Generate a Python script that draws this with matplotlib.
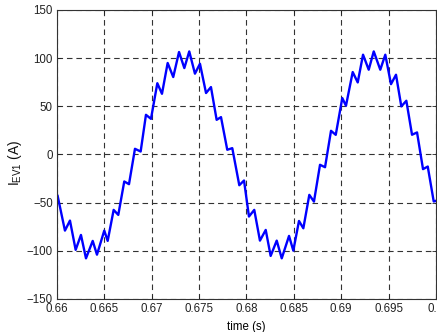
import numpy as np
import matplotlib
matplotlib.use("Agg")
import matplotlib.pyplot as plt

# current of EV1 over two mains periods
t = [0.66007, 0.66084, 0.66137, 0.66197, 0.66253, 0.66306, 0.66377, 0.66422,
     0.66499, 0.66535, 0.66598, 0.66647, 0.66710, 0.66760, 0.66823, 0.66883,
     0.66939, 0.66992, 0.67059, 0.67108, 0.67168, 0.67227, 0.67288, 0.67344,
     0.67396, 0.67456, 0.67509, 0.67573, 0.67625, 0.67685, 0.67731, 0.67797,
     0.67850, 0.67924, 0.67974, 0.68026, 0.68082, 0.68142, 0.68203, 0.68255,
     0.68319, 0.68372, 0.68449, 0.68494, 0.68554, 0.68600, 0.68663, 0.68712,
     0.68776, 0.68829, 0.68892, 0.68942, 0.69011, 0.69050, 0.69121, 0.69174,
     0.69230, 0.69290, 0.69343, 0.69412, 0.69465, 0.69525, 0.69578, 0.69634,
     0.69687, 0.69747, 0.69800, 0.69863, 0.69913, 0.69976, 0.70003]
i_ev1 = [-43, -79, -68.6, -99, -83.5, -107.8, -89.7, -104,
         -79, -89.7, -57.5, -62.7, -28, -30.8, 5.9, 3.1,
         41.2, 37, 74, 63, 95, 80.4, 106.4, 89.7,
         107, 83.9, 94.2, 63.8, 70, 36, 38.8, 4.9,
         6.6, -31.9, -27, -64.4, -57.5, -89.4, -78.3, -105.3,
         -89.4, -107.8, -84.5, -99.8, -69, -76.6, -41.9, -48.9,
         -10.7, -13.2, 24.6, 20.4, 58.6, 50.6, 85.6, 74.8,
         103.6, 88, 107, 88, 103.6, 73, 82.8, 49.9,
         55.8, 20.5, 22.9, -15.2, -12.5, -48.8, -48]

xticks = [0.66, 0.665, 0.67, 0.675, 0.68, 0.685, 0.69, 0.695, 0.70]
xticklabels = ['0.66', '0.665', '0.67', '0.675', '0.68', '0.685', '0.69', '0.695', '0.7']
yticks = [-150, -100, -50, 0, 50, 100, 150]

plt.rcParams['font.family'] = ['Liberation Sans', 'DejaVu Sans']
plt.rcParams['mathtext.default'] = 'regular'

fig = plt.figure(figsize=(4.37, 3.32), dpi=100)
ax = fig.add_axes([0.1304, 0.0994, 0.8673, 0.8705])

ax.plot(t, i_ev1, color='#0000ff', lw=1.7)

ax.set_xlim(0.66, 0.70)
ax.set_ylim(-150, 150)
ax.set_xticks(xticks)
ax.set_xticklabels(xticklabels)
ax.set_yticks(yticks)
ax.tick_params(direction='in', length=3, width=0.6, labelsize=8.3, colors='#222222',
               pad=3, top=True, right=True)
ax.grid(True, color='#333333', lw=0.8, linestyle=(0, (5, 3.5)))
for s in ax.spines.values():
    s.set_color('#333333')
    s.set_linewidth(0.8)

ax.set_xlabel('time (s)', fontsize=8.3, labelpad=4)
ax.set_ylabel('I$_{EV1}$ (A)', fontsize=10, color='#111111')
ax.yaxis.set_label_coords(-0.088, 0.472)

fig.savefig('out.png', dpi=100)
